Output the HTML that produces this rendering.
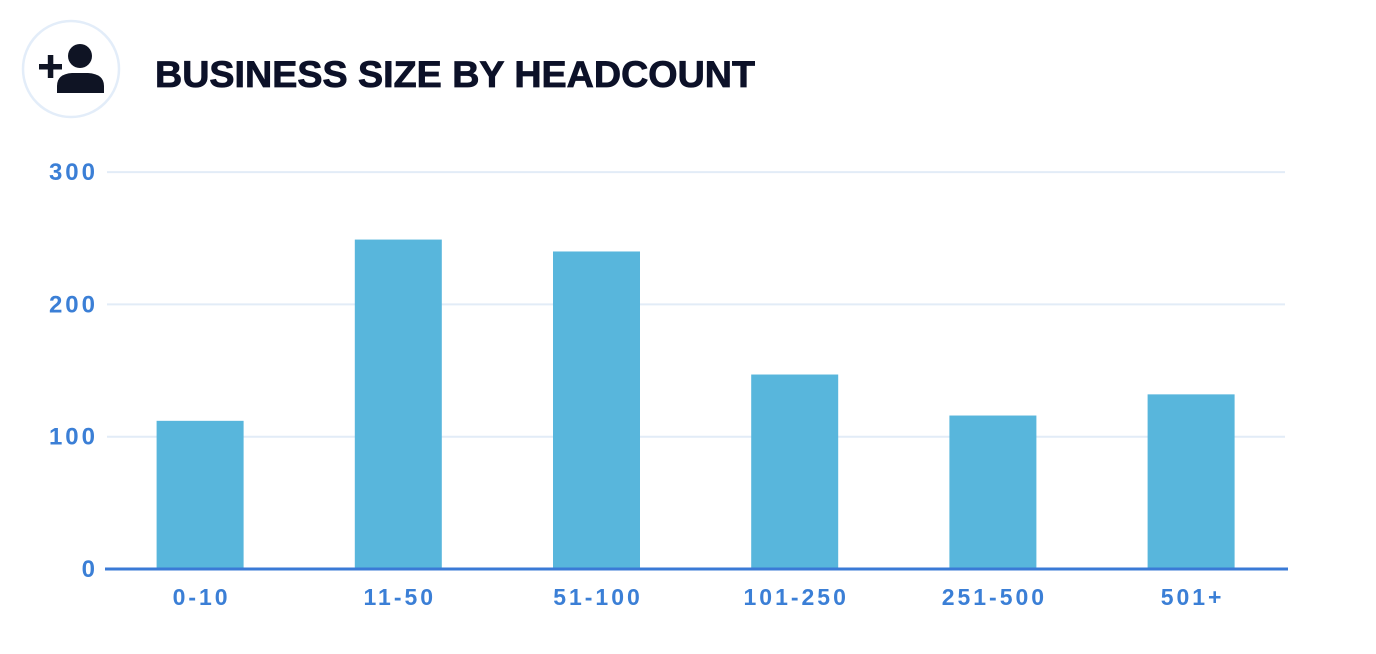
<!DOCTYPE html>
<html><head><meta charset="utf-8"><style>
html,body{margin:0;padding:0;background:#fff;width:1376px;height:654px;overflow:hidden}
svg{display:block;font-family:"Liberation Sans",sans-serif}
</style></head><body>
<svg id="chart" width="1376" height="654">
  <g>
    <circle cx="71" cy="69" r="48" fill="#fff" stroke="#e3edf9" stroke-width="2.5"/>
    <circle cx="80" cy="56" r="12" fill="#0f1424"/>
    <path d="M57 93 L57 86 Q57 74 72 73 L88 73 Q104 74 104 86 L104 93 Z" fill="#0f1424"/>
    <rect x="39" y="64" width="23" height="5.5" fill="#0f1424"/>
    <rect x="47.8" y="55" width="5.5" height="23" fill="#0f1424"/>
  </g>
  <text x="155" y="87" font-size="37" font-weight="bold" fill="#0c1128" stroke="#0c1128" stroke-width="0.8" textLength="600" lengthAdjust="spacingAndGlyphs">BUSINESS SIZE BY HEADCOUNT</text>
  <g id="grid"></g><g id="bars"></g><g id="labels"></g>
</svg>
<script>
const categories = ["0-10","11-50","51-100","101-250","251-500","501+"];
const values = [112, 249, 240, 147, 116, 132];
const yTicks = [0, 100, 200, 300];
const ns = "http://www.w3.org/2000/svg";
const y0 = 569, pxPer = 132.3/100, left = 101, step = 198.2, barW = 87;
const yScale = v => y0 - v * pxPer;
const xCenter = i => left + step * i + step / 2;
function mk(tag, attrs, parent) { const e = document.createElementNS(ns, tag); for (const k in attrs) e.setAttribute(k, attrs[k]); parent.appendChild(e); return e; }
const grid = document.getElementById('grid'), bars = document.getElementById('bars'), labels = document.getElementById('labels');
yTicks.forEach(t => {
  if (t > 0) {
    const l = mk('line', {x1:107, x2:1285, y1:yScale(t), y2:yScale(t), stroke:'#e2ecf7', 'stroke-width':2}, grid);
    
    
  }
  const tx = mk('text', {x:98, y:yScale(t)+8, 'text-anchor':'end', 'font-size':24, 'letter-spacing':3, 'font-weight':'bold', fill:'#3b7fd6'}, labels);
  tx.textContent = t;
  
  
});
values.forEach((v, i) => {
  const r = mk('rect', {x:xCenter(i)-barW/2, y:yScale(v), width:barW, height:y0-yScale(v), fill:'#58b6dc'}, bars);
  
  
  const tx = mk('text', {x:xCenter(i)+1.5, y:605, 'text-anchor':'middle', 'font-size':23, 'letter-spacing':3, 'font-weight':'bold', fill:'#3b7fd6'}, labels);
  tx.textContent = categories[i];
  
  
});
const axis = mk('line', {x1:105, x2:1288, y1:y0, y2:y0, stroke:'#3a7ad6', 'stroke-width':3}, labels);


</script>
</body></html>
